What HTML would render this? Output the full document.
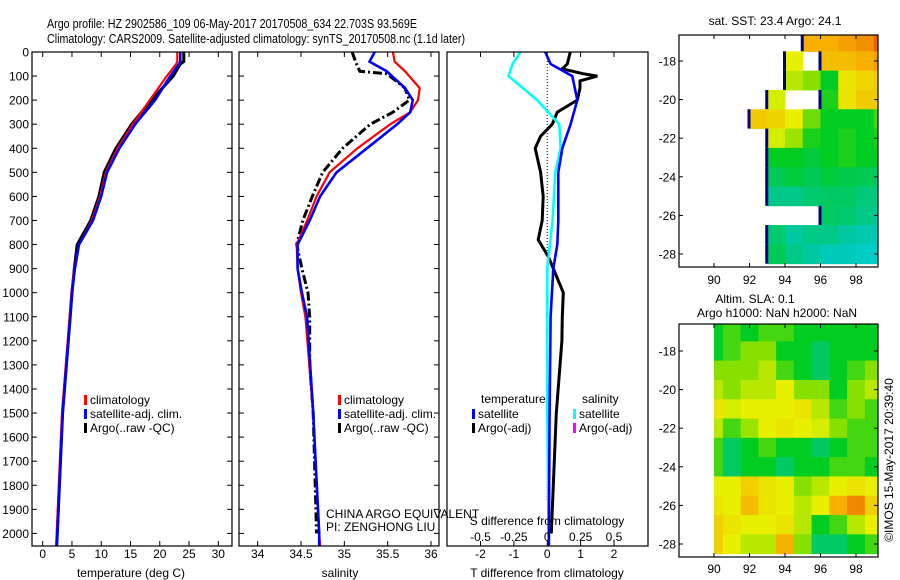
<!DOCTYPE html>
<html><head><meta charset="utf-8"><style>
html,body{margin:0;padding:0;background:#fff;}
svg{display:block;font-family:"Liberation Sans",sans-serif;}
</style></head><body>
<svg id="fig" width="900" height="580" viewBox="0 0 900 580" xmlns="http://www.w3.org/2000/svg">
<text x="47" y="28" font-size="13" textLength="370" lengthAdjust="spacingAndGlyphs">Argo profile: HZ 2902586_109 06-May-2017 20170508_634 22.703S 93.569E</text>
<text x="47" y="43" font-size="13" textLength="418" lengthAdjust="spacingAndGlyphs">Climatology: CARS2009. Satellite-adjusted climatology: synTS_20170508.nc (1.1d later)</text>
<g id="g1"></g>
<g id="g2"></g>
<g id="g3"></g>
<g id="g4"></g>
<g id="g5"></g>
<text x="893" y="460" font-size="12" text-anchor="middle" transform="rotate(-90 893 460)">©IMOS 15-May-2017 20:39:40</text>
</svg>
<script>
// ---- data ----
const tDepthArgo = [0,40,50,100,200,300,400,500,600,700,800,900,1000,1100,1500,2000,2050];
const tArgo = [24.1,24.1,23.5,22.3,18.6,15.2,12.5,10.5,9.6,8.2,5.9,5.4,5.0,4.7,3.4,2.5,2.4];
const tClim = [23.0,23.0,22.8,21.2,18.3,15.4,12.8,10.8,9.8,8.4,6.2,5.4,4.9,4.6,3.3,2.4,2.3];
const tSat = [23.5,23.5,23.3,21.8,19.2,15.8,13.1,11.0,10.0,8.6,6.2,5.5,5.0,4.7,3.4,2.5,2.4];
const sDepth = [0,40,80,150,200,250,300,400,500,600,700,800,900,1000,1100,1500,2000,2050];
const sClim = [35.56,35.58,35.70,35.87,35.85,35.76,35.53,35.15,34.83,34.68,34.57,34.45,34.46,34.50,34.55,34.64,34.71,34.72];
const sSat = [35.35,35.29,35.49,35.70,35.79,35.76,35.61,35.26,34.91,34.72,34.60,34.46,34.46,34.51,34.57,34.64,34.71,34.71];
const sArgoDepth = [0,50,80,90,150,200,250,300,400,500,600,700,800,900,1000,1100,1300,1500,2000];
const sArgo = [35.09,35.14,35.18,35.49,35.70,35.75,35.56,35.30,34.98,34.75,34.63,34.52,34.45,34.51,34.58,34.60,34.60,34.64,34.68];
const dDepthSat = [0,50,100,200,300,400,500,700,800,900,1100,1500,2000,2050];
const dTSat = [-0.06,0.1,0.75,0.9,0.7,0.45,0.33,0.33,0.3,0.18,0.1,0.07,0.05,0.05];
const dSSat = [-0.2,-0.26,-0.29,-0.075,0.09,0.1,0.06,0.04,0.02,0.0,0.0,0.0,0.01,0.01];
const dDepthArgo = [0,50,70,90,100,120,150,200,250,300,350,400,500,600,700,780,850,900,1000,1100,1200,1500,1900,2000];
const dTArgo = [0.69,0.6,0.45,1.07,1.5,0.98,0.98,0.9,0.3,0.15,-0.2,-0.36,-0.2,-0.12,-0.15,-0.27,0.03,0.18,0.48,0.45,0.44,0.27,0.15,0.12];
const depthTicks = [0,100,200,300,400,500,600,700,800,900,1000,1100,1200,1300,1400,1500,1600,1700,1800,1900,2000];
const tTicks = [0,5,10,15,20,25,30];
const sTicks = [34,34.5,35,35.5,36];
const dTTicks = [-2,-1,0,1,2];
const dSTicks = [-0.5,-0.25,0,0.25,0.5];
const sstLat = [-17,-18,-19,-20,-21,-22,-23,-24,-25,-26,-27,-28,-28.7];
const sstGrid = [
 [null,null,null,null,null,null,null,0.8,0.8,0.82,0.84,0.9],
 [null,null,null,null,null,null,0.7,null,0.78,0.78,0.8,0.82],
 [null,null,null,null,null,null,0.65,0.6,0.5,0.72,0.74,0.76],
 [null,null,null,null,null,0.68,null,null,0.52,0.72,0.76,0.76],
 [null,null,null,null,0.76,0.74,0.7,0.58,0.5,0.5,0.5,0.55],
 [null,null,null,null,null,0.68,0.62,0.52,0.5,0.52,0.5,0.52],
 [null,null,null,null,null,0.5,0.5,0.48,0.5,0.52,0.5,0.5],
 [null,null,null,null,null,0.46,0.48,0.46,0.48,0.47,0.46,0.45],
 [null,null,null,null,null,0.42,0.42,0.44,0.45,0.45,0.43,0.42],
 [null,null,null,null,null,null,null,null,0.45,0.44,0.42,0.4],
 [null,null,null,null,null,0.44,0.4,0.42,0.42,0.4,0.38,0.36],
 [null,null,null,null,null,0.46,0.42,0.4,0.36,0.36,0.34,0.33]
];
const slaGrid = [
 [0.5,0.55,0.5,0.55,0.55,0.5,0.5,0.5,0.5,0.5],
 [0.5,0.55,0.6,0.6,0.5,0.5,0.45,0.5,0.5,0.5],
 [0.6,0.6,0.6,0.65,0.55,0.5,0.45,0.5,0.55,0.6],
 [0.65,0.6,0.65,0.65,0.7,0.6,0.6,0.5,0.6,0.65],
 [0.72,0.68,0.7,0.7,0.7,0.72,0.65,0.55,0.6,0.55],
 [0.65,0.55,0.62,0.7,0.72,0.7,0.68,0.6,0.55,0.55],
 [0.55,0.45,0.5,0.55,0.5,0.5,0.45,0.5,0.55,0.55],
 [0.55,0.45,0.5,0.5,0.45,0.5,0.5,0.55,0.55,0.5],
 [0.7,0.7,0.75,0.72,0.7,0.6,0.65,0.7,0.72,0.7],
 [0.72,0.7,0.78,0.72,0.7,0.65,0.7,0.8,0.85,0.75],
 [0.75,0.72,0.7,0.7,0.72,0.65,0.5,0.55,0.65,0.7],
 [0.75,0.7,0.65,0.65,0.8,0.6,0.45,0.45,0.5,0.55]
];
const latTicks = [-18,-20,-22,-24,-26,-28];
const lonTicks = [90,92,94,96,98];

// ---- helpers ----
const NS='http://www.w3.org/2000/svg';
function mk(parent,tag,attrs,txt){const e=document.createElementNS(NS,tag);for(const k in attrs)e.setAttribute(k,attrs[k]);if(txt!==undefined)e.textContent=txt;parent.appendChild(e);return e;}
const yTop=52, yBot=546;
const yD = d => yTop + d*0.2407;
function lin(d0,d1,p0,p1){return v=>p0+(v-d0)*(p1-p0)/(d1-d0);}
function frame(g,x0,x1,name){
  const r=mk(g,'rect',{x:x0,y:yTop,width:x1-x0,height:yBot-yTop,fill:'none',stroke:'#000','stroke-width':1.2});
  
  
}
function profile(g,xs,ds,xf,color,w,dash,name){
  const pts=xs.map((v,i)=>xf(v).toFixed(1)+','+yD(ds[i]).toFixed(1)).join(' ');
  const a={points:pts,fill:'none',stroke:color,'stroke-width':w};
  if(dash)a['stroke-dasharray']=dash;
  const p=mk(g,'polyline',a);
  
  
}
function depthTicksDraw(g,x0,x1,labels){
  depthTicks.forEach(d=>{
    const y=yD(d);
    mk(g,'line',{x1:x0,y1:y,x2:x0+5,y2:y,stroke:'#000'});
    mk(g,'line',{x1:x1-5,y1:y,x2:x1,y2:y,stroke:'#000'});
    if(labels){const t=mk(g,'text',{x:x0-3,y:y+4.5,'font-size':12,'text-anchor':'end'},String(d));
      
      }
  });
}
function xTicksDraw(g,ticks,xf,ylab){
  ticks.forEach(v=>{
    const x=xf(v);
    mk(g,'line',{x1:x,y1:yTop,x2:x,y2:yTop+5,stroke:'#000'});
    mk(g,'line',{x1:x,y1:yBot-5,x2:x,y2:yBot,stroke:'#000'});
    if(ylab){const t=mk(g,'text',{x:x,y:ylab,'font-size':12,'text-anchor':'middle'},String(v));
      
      }
  });
}
function legend(g,x,y,color,label){
  mk(g,'rect',{x:x,y:y-9,width:3,height:10,fill:color});
  const t=mk(g,'text',{x:x+6,y:y,'font-size':12},label);
  
  
}

// ---- panel 1: temperature ----
const g1=document.getElementById('g1');
const xT=lin(0,30,42.7,218.3);
profile(g1,tArgo,tDepthArgo,xT,'#000',3,null,'argo-temperature-line');
profile(g1,tClim,tDepthArgo,xT,'#f00',2.2,null,'climatology-temperature-line');
profile(g1,tSat,tDepthArgo,xT,'#00f',2.6,null,'satellite-temperature-line');
frame(g1,32,232,'temperature');
depthTicksDraw(g1,32,232,true);
xTicksDraw(g1,tTicks,xT,558);
let t=mk(g1,'text',{x:131,y:577,'font-size':12,'text-anchor':'middle'},'temperature (deg C)');


legend(g1,84,404,'#f00','climatology');
legend(g1,84,418,'#00f','satellite-adj. clim.');
legend(g1,84,432,'#000','Argo(..raw -QC)');

// ---- panel 2: salinity ----
const g2=document.getElementById('g2');
const xS=lin(34,36,257.7,431);
profile(g2,sArgo,sArgoDepth,xS,'#000',3,'9,3,2,3','argo-salinity-line');
profile(g2,sClim,sDepth,xS,'#f00',2.2,null,'climatology-salinity-line');
profile(g2,sSat,sDepth,xS,'#00f',2.6,null,'satellite-salinity-line');
frame(g2,239,439,'salinity');
depthTicksDraw(g2,239,439,false);
xTicksDraw(g2,sTicks,xS,558);
t=mk(g2,'text',{x:340,y:577,'font-size':12,'text-anchor':'middle'},'salinity');


legend(g2,338,404,'#f00','climatology');
legend(g2,338,418,'#00f','satellite-adj. clim.');
legend(g2,338,432,'#000','Argo(..raw -QC)');
t=mk(g2,'text',{x:326,y:518,'font-size':12},'CHINA ARGO EQUIVALENT');


t=mk(g2,'text',{x:326,y:531,'font-size':12},'PI: ZENGHONG LIU');



// ---- panel 3: differences ----
const g3=document.getElementById('g3');
const xdT=lin(-2,2,480.5,614);
const xdS=lin(-0.5,0.5,480.5,614);
mk(g3,'line',{x1:xdT(0),y1:yTop,x2:xdT(0),y2:500,stroke:'#000','stroke-dasharray':'1,2'});
profile(g3,dTArgo,dDepthArgo,xdT,'#000',3,null,'argo-temperature-difference-line');
profile(g3,dSSat,dDepthSat,xdS,'#0ff',2.6,null,'satellite-salinity-difference-line');
profile(g3,dTSat,dDepthSat,xdT,'#00f',2.6,null,'satellite-temperature-difference-line');
frame(g3,447,648,'difference');
xTicksDraw(g3,dTTicks,xdT,558);
dSTicks.forEach(v=>{const tt=mk(g3,'text',{x:xdS(v),y:541,'font-size':12,'text-anchor':'middle'},String(v));
  
  });
t=mk(g3,'text',{x:547,y:525,'font-size':12,'text-anchor':'middle'},'S difference from climatology');


t=mk(g3,'text',{x:547,y:577,'font-size':12,'text-anchor':'middle'},'T difference from climatology');


t=mk(g3,'text',{x:481,y:403,'font-size':12},'temperature');


t=mk(g3,'text',{x:582,y:403,'font-size':12},'salinity');


legend(g3,472,418,'#00f','satellite');
legend(g3,472,432,'#000','Argo(-adj)');
legend(g3,573,418,'#0ff','satellite');
legend(g3,573,432,'#f0f','Argo(-adj)');

// ---- maps ----
const stops=[[0.3,[0,208,224]],[0.4,[0,200,160]],[0.5,[0,204,34]],[0.6,[136,224,0]],[0.7,[232,240,0]],[0.8,[248,176,0]],[0.9,[232,96,0]]];
function cmap(v){
  if(v<=stops[0][0])return 'rgb('+stops[0][1]+')';
  for(let i=1;i<stops.length;i++){if(v<=stops[i][0]){const a=stops[i-1],b=stops[i],f=(v-a[0])/(b[0]-a[0]);
    return 'rgb('+a[1].map((c,k)=>Math.round(c+(b[1][k]-c)*f)).join(',')+')';}}
  return 'rgb('+stops[stops.length-1][1]+')';
}
function mapAxes(g,x0,x1,y0,y1,lonf,latf,xlabY,name){
  const r=mk(g,'rect',{x:x0,y:y0,width:x1-x0,height:y1-y0,fill:'none',stroke:'#000','stroke-width':1.2});
  
  
  latTicks.forEach(v=>{const y=latf(v);
    mk(g,'line',{x1:x0,y1:y,x2:x0+4,y2:y,stroke:'#000'});
    mk(g,'line',{x1:x1-4,y1:y,x2:x1,y2:y,stroke:'#000'});
    const tt=mk(g,'text',{x:x0-3,y:y+4.5,'font-size':12,'text-anchor':'end'},String(v));
    
    });
  lonTicks.forEach(v=>{const x=lonf(v);
    mk(g,'line',{x1:x,y1:y0,x2:x,y2:y0+4,stroke:'#000'});
    mk(g,'line',{x1:x,y1:y1-4,x2:x,y2:y1,stroke:'#000'});
    const tt=mk(g,'text',{x:x,y:xlabY,'font-size':12,'text-anchor':'middle'},String(v));
    
    });
}
// SST map
const g4=document.getElementById('g4');
const lon4=lin(90,98,714,856), lat4=lin(-18,-28,61,254);
const m4x0=679,m4x1=878,m4y0=35,m4y1=267;
sstGrid.forEach((row,r)=>{
  const ya=Math.max(m4y0,lat4(-16.5-r)), yb=Math.min(m4y1,lat4(-17.5-r));
  row.forEach((v,c)=>{
    if(v===null)return;
    const xa=Math.max(m4x0,lon4(88+c)), xb=Math.min(m4x1,lon4(89+c));
    const cell=mk(g4,'rect',{x:xa,y:ya,width:xb-xa+0.5,height:yb-ya+0.5,fill:cmap(v)});
    
    
    if(c===0||row[c-1]===null)mk(g4,'rect',{x:xa-2,y:ya,width:3,height:yb-ya,fill:'#000080'});
  });
});
mapAxes(g4,m4x0,m4x1,m4y0,m4y1,lon4,lat4,284,'sst-map');
t=mk(g4,'text',{x:775,y:25,'font-size':12,'text-anchor':'middle'},'sat. SST: 23.4 Argo: 24.1');


// SLA map
const g5=document.getElementById('g5');
const lon5=lin(90,98,714,856), lat5=lin(-18,-28,351,544);
const m5x0=679,m5x1=878,m5y0=324,m5y1=557;
slaGrid.forEach((row,r)=>{
  const ya=Math.max(m5y0,lat5(-16.5-r)), yb=Math.min(m5y1,lat5(-17.5-r));
  row.forEach((v,c)=>{
    const xa=Math.max(lon5(90),lon5(89.5+c)), xb=Math.min(m5x1,lon5(90.5+c));
    const cell=mk(g5,'rect',{x:xa,y:ya,width:xb-xa+0.5,height:yb-ya+0.5,fill:cmap(v)});
    
    
  });
});
mapAxes(g5,m5x0,m5x1,m5y0,m5y1,lon5,lat5,573,'sla-map');
t=mk(g5,'text',{x:755,y:303,'font-size':12,'text-anchor':'middle'},'Altim. SLA: 0.1');


t=mk(g5,'text',{x:777,y:317,'font-size':12,'text-anchor':'middle'},'Argo h1000: NaN h2000: NaN');


</script>
</body></html>
